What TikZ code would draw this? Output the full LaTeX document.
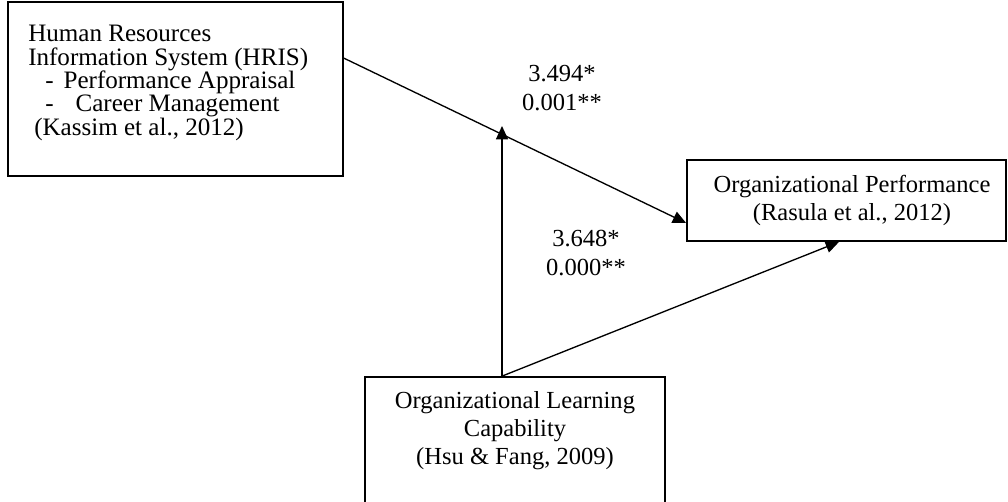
\documentclass[tikz,border=0pt]{standalone}
\usepackage{fontspec}
\setmainfont{Liberation Serif}
\usetikzlibrary{arrows.meta}
\begin{document}
\begin{tikzpicture}[x=0.75pt,y=-0.75pt,
  box/.style={draw, line width=1.3pt, inner sep=0pt},
  arr/.style={line width=1pt, -{Triangle[length=10pt,width=9pt]}},
  txt/.style={inner sep=0pt, font=\fontsize{18.4}{17.5}\selectfont}]
\useasboundingbox (0,0) rectangle (1008,501);
% boxes
\node[box, minimum width=251.25pt, minimum height=130.5pt] (hris) at (175.5,89) {};
\node[box, minimum width=239.25pt, minimum height=60.75pt] (perf) at (846.5,200.5) {};
\node[box, minimum width=225pt, minimum height=94.5pt] (olc) at (515,440) {};
% texts
\node[txt, anchor=west, align=left, font=\fontsize{18.8}{17.5}\selectfont] (hrist) at (28,83) {Human Resources\\Information System (HRIS)\\\hspace*{12.75pt}-\hspace{7.5pt}Performance Appraisal\\\hspace*{12.75pt}-\hspace{16.5pt}Career Management\\\hspace*{4.5pt}(Kassim et al., 2012)};
\node[txt, align=center, font=\fontsize{18.4}{21}\selectfont] (perft) at (852,200) {Organizational Performance\\(Rasula et al., 2012)};
\node[txt, align=center, font=\fontsize{18.4}{21}\selectfont] (olct) at (515,431) {Organizational Learning\\Capability\\(Hsu \& Fang, 2009)};
\node[txt, align=center, font=\fontsize{18.4}{21.75}\selectfont] (l1) at (562,88) {3.494*\\0.001**};
\node[txt, align=center, font=\fontsize{18.4}{21.75}\selectfont] (l2) at (586,253) {3.648*\\0.000**};
% connectors
\coordinate (vt) at (502,126);
\draw[arr] ([yshift=-42.75pt]hris.north east) -- ([yshift=-16.875pt]perf.west);
\draw[arr] ([xshift=-9.75pt]olc.north) -- (vt);
\draw[arr] ([xshift=-9.75pt]olc.north) -- ([xshift=-5.6pt]perf.south);
\end{tikzpicture}
\end{document}
